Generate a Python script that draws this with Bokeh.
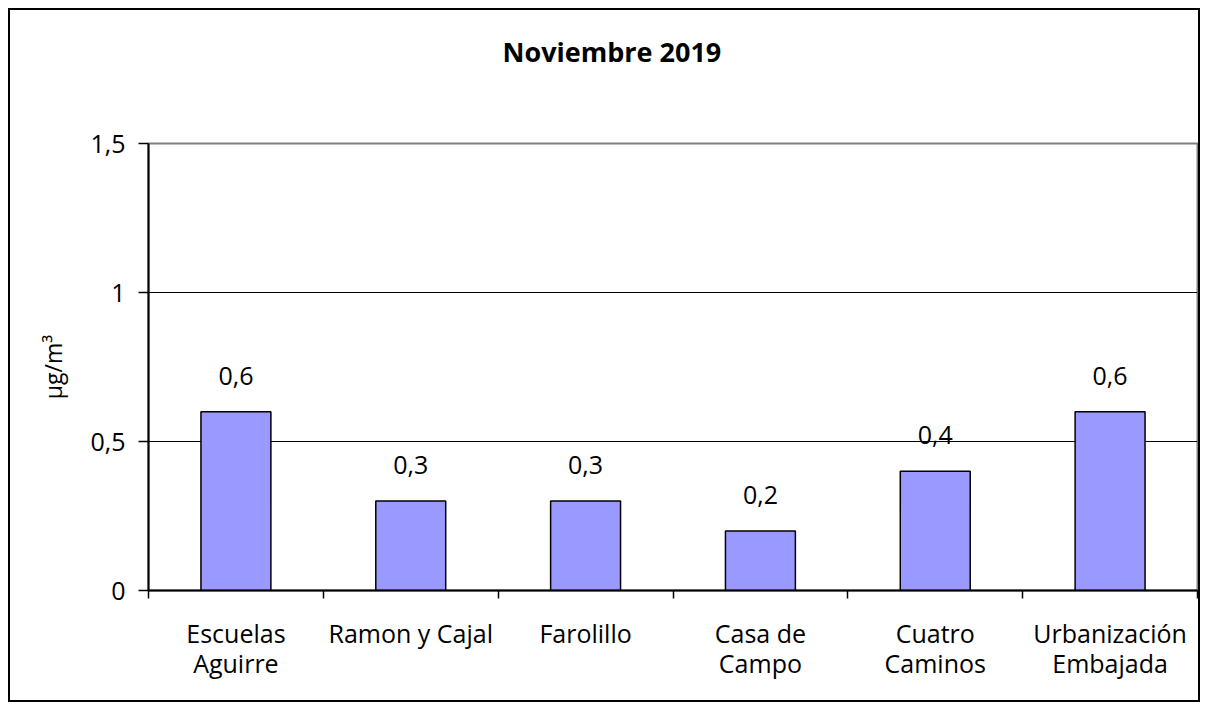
from bokeh.plotting import figure
from bokeh.models import (ColumnDataSource, Range1d, FixedTicker, LabelSet, Title)
from bokeh.core.properties import value
from bokeh.embed import file_html
from bokeh.resources import INLINE

title_text = "Noviembre 2019"
y_label = "µg/m³"
stations = ["Escuelas\nAguirre", "Ramon y Cajal", "Farolillo", "Casa de\nCampo",
            "Cuatro\nCaminos", "Urbanización\nEmbajada"]
values = [0.6, 0.3, 0.3, 0.2, 0.4, 0.6]
value_labels = ["0,6", "0,3", "0,3", "0,2", "0,4", "0,6"]
y_ticks = [0, 0.5, 1, 1.5]
y_tick_labels = ["0", "0,5", "1", "1,5"]

FONT = "Open Sans"
LBL = "25px"

xs = [i + 0.5 for i in range(len(stations))]
src = ColumnDataSource(dict(x=xs, top=values, lab=value_labels))

p = figure(width=1192, height=694, output_backend="svg", toolbar_location=None,
           x_range=Range1d(0, len(stations)), y_range=Range1d(0, 1.5),
           min_border_left=138, min_border_right=5, min_border_top=133, min_border_bottom=114)
p.styles = {"border": "2px solid black", "margin-left": "8px", "margin-top": "8px"}
p.outline_line_color = "#808080"
p.outline_line_width = 2
p.background_fill_color = "white"
p.border_fill_color = "white"

p.title.text = title_text
p.title.align = "left"
p.title.offset = 354
p.title.standoff = 0
p.title.text_font = FONT
p.title.text_font_size = "27px"
p.title.text_font_style = "bold"
p.title.text_color = "black"

# empty spacer panel between title and plot area
p.add_layout(Title(text="\u00a0", text_font_size="1px", standoff=71), "above")

p.vbar(x="x", top="top", width=0.4, bottom=0, source=src,
       fill_color="#9999FF", line_color="black", line_width=1.5)

p.add_layout(LabelSet(x="x", y="top", text="lab", source=src, text_align="center",
                      text_baseline="alphabetic", y_offset=27,
                      text_font=value(FONT), text_font_size=value(LBL), text_color="black"))

# x axis
xa = p.xaxis[0]
xa.ticker = FixedTicker(ticks=xs, minor_ticks=list(range(len(stations) + 1)))
xa.major_label_overrides = {x: s for x, s in zip(xs, stations)}
xa.major_tick_line_color = None
xa.major_tick_out = 0
xa.major_tick_in = 0
xa.minor_tick_line_color = "black"
xa.minor_tick_out = 8
xa.minor_tick_in = 0
xa.minor_tick_line_width = 1.5
xa.axis_line_color = "black"
xa.axis_line_width = 2
xa.major_label_standoff = 17
xa.major_label_text_font = FONT
xa.major_label_text_font_size = LBL
xa.major_label_text_color = "black"
xa.major_label_text_line_height = 0.9

ya = p.yaxis[0]
ya.ticker = FixedTicker(ticks=y_ticks)
ya.major_label_overrides = {t: s for t, s in zip(y_ticks, y_tick_labels)}
ya.major_tick_out = 10
ya.major_tick_in = 0
ya.major_tick_line_width = 1.5
ya.minor_tick_line_color = None
ya.axis_line_color = "black"
ya.axis_line_width = 2
ya.major_label_standoff = 13
ya.major_label_text_font = FONT
ya.major_label_text_font_size = LBL
ya.major_label_text_color = "black"
ya.axis_label = y_label
ya.axis_label_standoff = 18
ya.axis_label_text_font = FONT
ya.axis_label_text_font_size = "23px"
ya.axis_label_text_font_style = "normal"
ya.axis_label_text_color = "black"

p.xgrid.visible = False
p.ygrid.ticker = FixedTicker(ticks=[0.5, 1])
p.ygrid.grid_line_color = "black"
p.ygrid.grid_line_width = 1.2

open("out.html", "w").write(file_html(p, INLINE))
